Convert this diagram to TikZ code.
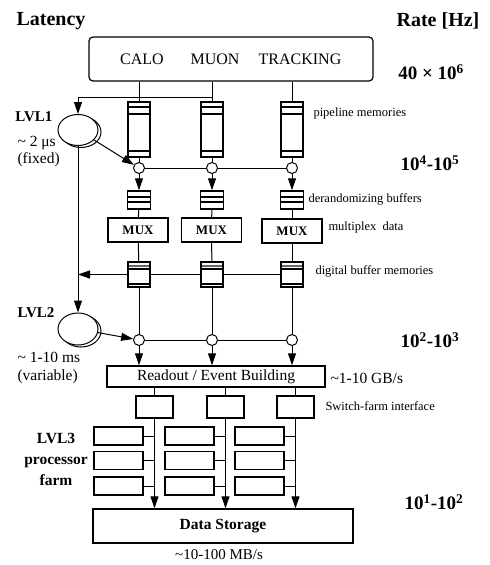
\documentclass[tikz,border=0pt]{standalone}
\usepackage{fontspec}
\setmainfont{Liberation Serif}
\usetikzlibrary{arrows.meta,shapes.geometric,shadows}

\begin{document}
\begin{tikzpicture}[
	x=1pt, y=-1pt,
	line width=1pt,
	seta/.style={-{Triangle[length=12pt,width=8pt]}},
	det/.style={draw, line width=1.2pt, rounded corners=4pt, minimum width=284pt, minimum height=44pt},
	pipe/.style={draw, line width=1.5pt, inner sep=0pt, minimum width=22pt, minimum height=55pt,
		path picture={
			\draw ([yshift=-5pt]path picture bounding box.north west) -- ([yshift=-5pt]path picture bounding box.north east);
			\draw ([yshift=-12pt]path picture bounding box.north west) -- ([yshift=-12pt]path picture bounding box.north east);
			\draw ([yshift=6pt]path picture bounding box.south west) -- ([yshift=6pt]path picture bounding box.south east);
		}},
	derand/.style={draw, line width=1.5pt, inner sep=0pt, minimum width=23pt, minimum height=18pt,
		path picture={
			\draw ([yshift=-6pt]path picture bounding box.north west) -- ([yshift=-6pt]path picture bounding box.north east);
			\draw ([yshift=-11pt]path picture bounding box.north west) -- ([yshift=-11pt]path picture bounding box.north east);
		}},
	dbuf/.style={draw, line width=1.5pt, inner sep=0pt, minimum width=22pt, minimum height=25pt,
		path picture={
			\draw[line width=2pt, black!60] ([yshift=-4pt]path picture bounding box.north west) -- ([yshift=-4pt]path picture bounding box.north east);
			\draw ([yshift=-7pt]path picture bounding box.north west) -- ([yshift=-7pt]path picture bounding box.north east);
			\draw ([yshift=3pt]path picture bounding box.south west) -- ([yshift=3pt]path picture bounding box.south east);
		}},
	mux/.style={draw, line width=1.5pt, inner sep=0pt, minimum width=60pt, minimum height=24pt, font=\bfseries\fontsize{13}{15}\selectfont},
	junc/.style={draw, circle, fill=white, inner sep=0pt, minimum size=11pt},
	trig/.style={draw, ellipse, fill=white, inner sep=0pt, minimum width=40pt, minimum height=31pt,
		general shadow={draw, fill=white, shadow xshift=3pt, shadow yshift=-2pt}},
	box/.style={draw, line width=1.5pt, inner sep=0pt},
	proc/.style={box, minimum width=49pt, minimum height=18pt},
	lab/.style={anchor=west, inner sep=0pt, font=\fontsize{12.5}{14}\selectfont},
	side/.style={anchor=west, inner sep=0pt, font=\fontsize{15.5}{18}\selectfont},
	rate/.style={inner sep=0pt, font=\bfseries\fontsize{19}{22}\selectfont},
	lvl/.style={anchor=west, inner sep=0pt, font=\bfseries\fontsize{15}{18}\selectfont}
	]
	\useasboundingbox (0,0) rectangle (490,565);

	% headings
	\node[inner sep=0pt, font=\bfseries\fontsize{20}{24}\selectfont] (lat) at (51,21) {Latency};
	\node[inner sep=0pt, font=\bfseries\fontsize{20}{24}\selectfont] (rhz) at (438,21) {Rate [Hz]};

	% detectors
	\node[det] (det) at (231,59) {};
	\node[inner sep=0pt, font=\fontsize{16}{18}\selectfont] (calo) at (142,59) {CALO};
	\node[inner sep=0pt, font=\fontsize{16}{18}\selectfont] (muon) at (215,59) {MUON};
	\node[inner sep=0pt, font=\fontsize{16}{18}\selectfont] (trk) at (300,59) {TRACKING};
	\node[rate] (r1) at (431,72) {40 × 10\textsuperscript{6}};

	% pipelines and level 1
	\node[pipe] (pipe1) at (139,129.5) {};
	\node[pipe] (pipe2) at (212,129.5) {};
	\node[pipe] (pipe3) at (292,129.5) {};
	\node[lab] (plab) at (313,113) {pipeline memories};

	\node[trig] (l1) at (78,130) {};
	\node[lvl] (lvl1) at (15,117) {LVL1};
	\node[side] (t1) at (17,143) {\textasciitilde\ 2 μs};
	\node[side] (t1b) at (17,160) {(fixed)};

	\node[junc] (j1) at (139,168) {};
	\node[junc] (j2) at (212,168) {};
	\node[junc] (j3) at (292,168) {};
	\node[rate] (r2) at (430,163) {10\textsuperscript{4}-10\textsuperscript{5}};

	\node[derand] (d1) at (139,200) {};
	\node[derand] (d2) at (212,200) {};
	\node[derand] (d3) at (292,200) {};
	\node[lab] (dlab) at (308,199) {derandomizing buffers};

	\node[mux] (m1) at (138,230) {MUX};
	\node[mux] (m2) at (211.5,230) {MUX};
	\node[mux] (m3) at (292,231) {MUX};
	\node[lab] (mlab) at (328,227) {multiplex\ \ data};

	\node[dbuf] (b1) at (139,274.5) {};
	\node[dbuf] (b2) at (212,274.5) {};
	\node[dbuf] (b3) at (292,274.5) {};
	\node[lab] (blab) at (315,271) {digital buffer memories};

	% level 2
	\node[trig, minimum height=32pt] (l2) at (78,329) {};
	\node[lvl] (lvl2) at (17,313) {LVL2};
	\node[side] (t2) at (17,357) {\textasciitilde\ 1-10 ms};
	\node[side] (t2b) at (17,377) {(variable)};

	\node[junc] (k1) at (139,340) {};
	\node[junc] (k2) at (212,340) {};
	\node[junc] (k3) at (292,340) {};
	\node[rate] (r3) at (430,340) {10\textsuperscript{2}-10\textsuperscript{3}};

	% event building
	\node[box, minimum width=218pt, minimum height=21pt, font=\fontsize{15.5}{18}\selectfont] (ro) at (216,376.5) {Readout / Event Building};
	\node[side] (gbs) at (330,378) {\textasciitilde1-10 GB/s};

	\node[box, minimum width=37pt, minimum height=22pt] (s1) at (154.5,407) {};
	\node[box, minimum width=37pt, minimum height=22pt] (s2) at (225.5,407) {};
	\node[box, minimum width=37pt, minimum height=22pt] (s3) at (295.5,407) {};
	\node[lab] (slab) at (325,406) {Switch-farm interface};

	% level 3
	\node[proc] (p11) at (118.5,436) {};
	\node[proc] (p12) at (118.5,460.5) {};
	\node[proc] (p13) at (118.5,486) {};
	\node[proc] (p21) at (189.5,436) {};
	\node[proc] (p22) at (189.5,460.5) {};
	\node[proc] (p23) at (189.5,486) {};
	\node[proc] (p31) at (259.5,436) {};
	\node[proc] (p32) at (259.5,460.5) {};
	\node[proc] (p33) at (259.5,486) {};
	\node[align=center, inner sep=0pt, font=\bfseries\fontsize{15.5}{21}\selectfont] (lvl3) at (56,459) {LVL3\\processor\\farm};

	\node[box, minimum width=260pt, minimum height=34pt, font=\bfseries\fontsize{15.5}{18}\selectfont] (ds) at (223,526) {Data Storage};
	\node[inner sep=0pt, font=\fontsize{15}{18}\selectfont] (mbs) at (219,555) {\textasciitilde10-100 MB/s};
	\node[rate] (r4) at (434,502) {10\textsuperscript{1}-10\textsuperscript{2}};

	% connections
	\coordinate (tap) at (212,97);
	\draw (det.south -| pipe1) -- (pipe1);
	\draw (det.south -| pipe2) -- (pipe2);
	\draw (det.south -| pipe3) -- (pipe3);
	\draw[seta] (tap) -| (l1.north);

	\draw (pipe1) -- (j1);
	\draw (pipe2) -- (j2);
	\draw (pipe3) -- (j3);
	\draw (j1) -- (j2);
	\draw (j2) -- (j3);
	\draw[seta] (l1) -- (j1);
	\draw[seta] (j1) -- (d1);
	\draw[seta] (j2) -- (d2);
	\draw[seta] (j3) -- (d3);

	\draw (d1) -- (m1);
	\draw (d2) -- (m2);
	\draw (d3) -- (m3);
	\draw (m1) -- (b1);
	\draw (m2) -- (b2);
	\draw (m3) -- (b3);

	\draw (b3) -- (b2);
	\draw (b2) -- (b1);
	\draw[seta] (b1) -- (b1 -| l1);
	\draw[seta] (l1) -- (l2);

	\draw (b1) -- (k1);
	\draw (b2) -- (k2);
	\draw (b3) -- (k3);
	\draw (k1) -- (k2);
	\draw (k2) -- (k3);
	\draw[seta] (l2) -- (k1);
	\draw[seta] (k1) -- (k1 |- ro.north);
	\draw[seta] (k2) -- (k2 |- ro.north);
	\draw[seta] (k3) -- (k3 |- ro.north);

	\draw (ro.south -| s1) -- (s1);
	\draw (ro.south -| s2) -- (s2);
	\draw (ro.south -| s3) -- (s3);
	\draw[seta] (s1) -- (s1 |- ds.north);
	\draw[seta] (s2) -- (s2 |- ds.north);
	\draw[seta] (s3) -- (s3 |- ds.north);

	\draw (p11.east) -- (p11.east -| s1);
	\draw (p12.east) -- (p12.east -| s1);
	\draw (p13.east) -- (p13.east -| s1);
	\draw (p21.east) -- (p21.east -| s2);
	\draw (p22.east) -- (p22.east -| s2);
	\draw (p23.east) -- (p23.east -| s2);
	\draw (p31.east) -- (p31.east -| s3);
	\draw (p32.east) -- (p32.east -| s3);
	\draw (p33.east) -- (p33.east -| s3);
\end{tikzpicture}
\end{document}
